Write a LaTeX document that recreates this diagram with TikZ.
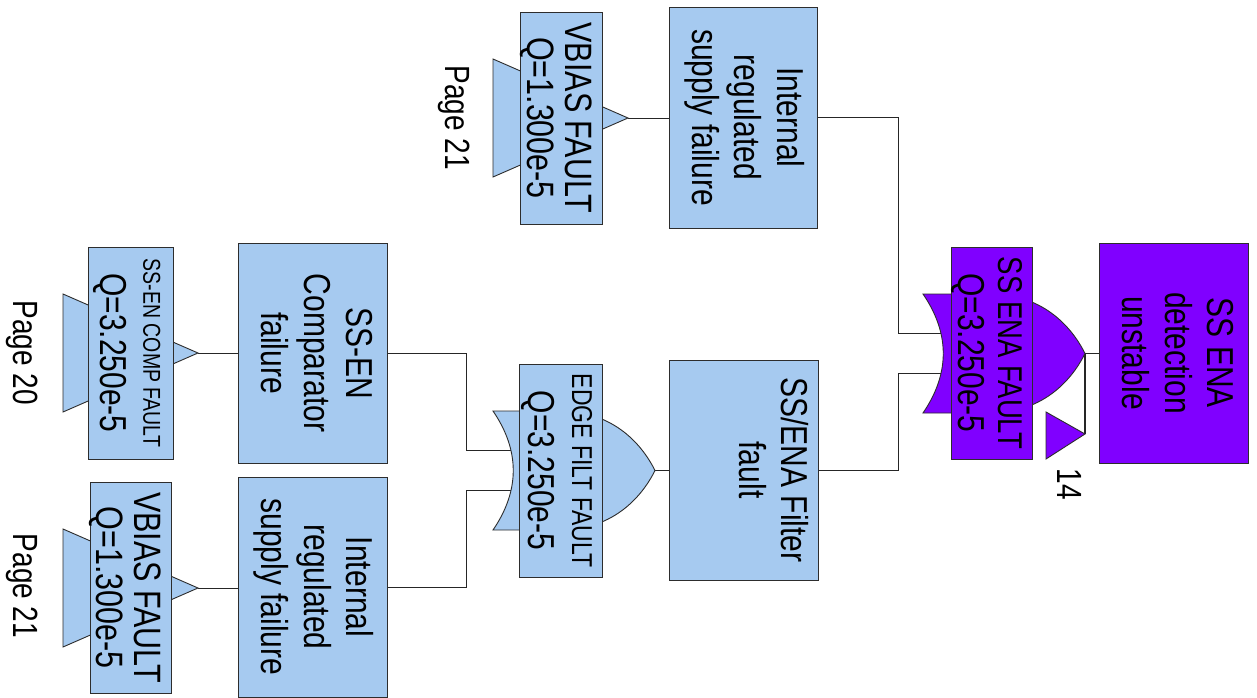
\documentclass[tikz,border=0pt]{standalone}
\usepackage{fontspec}
\setmainfont{Liberation Sans}
\usepackage{graphicx}
\pgfdeclarelayer{bg}
\pgfdeclarelayer{paper}
\pgfsetlayers{paper,bg,main}
\definecolor{skyb}{RGB}{166,202,240}
\definecolor{purp}{RGB}{128,0,255}
\definecolor{edgec}{RGB}{45,45,45}
\newcommand\rtext[4][0pt]{\kern#1\rotatebox{-90}{\scalebox{1}[1.25]{\fontsize{#2}{#3}\selectfont\begin{tabular}{@{}c@{}}#4\end{tabular}}}}
\begin{document}
\begin{tikzpicture}[x=1pt,y=-1pt,
  box/.style={draw=edgec, line width=0.9pt, fill=skyb, inner sep=0pt, outer sep=0pt},
  pbox/.style={box, fill=purp},
  tri/.style={draw=edgec, line width=0.9pt, fill=skyb},
  conn/.style={draw=black!85, line width=0.9pt},
  txt/.style={inner sep=0pt, outer sep=0pt},
  orgate/.pic={
    \path[pic actions] (0,-59.5) -- (67,-59.5) .. controls (117,-59.5) and (147,-30) .. (162,0)
      .. controls (147,30) and (117,59.5) .. (67,59.5) -- (0,59.5)
      .. controls (27,20) and (27,-20) .. (0,-59.5) -- cycle;
    \coordinate (-out) at (162,0);
    \coordinate (-in1) at (18,-20);
    \coordinate (-in2) at (18,20);
  }
]
\useasboundingbox (0,0) rectangle (1257,698);
\begin{pgfonlayer}{paper}
\fill[white] (0,0) rectangle (1257,698);
\end{pgfonlayer}

% transfer-in triangles (behind the label boxes)
\coordinate (a1) at (628,118);
\coordinate (a3) at (198,353);
\coordinate (a4) at (198,588);
\draw[tri] (493,59) -- (a1) -- (493,177) -- cycle;
\draw[tri] (63,294) -- (a3) -- (63,412) -- cycle;
\draw[tri] (63,529) -- (a4) -- (63,647) -- cycle;

% transfer-out triangle
\coordinate (t14) at (1085,434);
\draw[tri, fill=purp] (1046,412) -- (t14) -- (1046,459) -- cycle;

% OR gates
\pic[draw=edgec, fill=purp, line width=0.9pt] (gA) at (923,353.5) {orgate};
\pic[draw=edgec, fill=skyb, line width=0.9pt] (gB) at (493,470.5) {orgate};

% event boxes
\node[pbox, minimum width=149, minimum height=220] (top) at (1173.5,353)
  {\rtext{30}{34}{SS ENA\\detection\\unstable}};
\node[pbox, minimum width=81, minimum height=212] (lA) at (991.5,353)
  {\rtext[-11pt]{30}{32}{{\fontsize{27.5}{28}\selectfont SS ENA FAULT}\\Q=3.250e-5}};

\node[box, minimum width=148, minimum height=221] (e1) at (743,117.5)
  {\rtext{30}{34}{Internal\\regulated\\supply failure}};
\node[box, minimum width=82, minimum height=212] (l1) at (561,118)
  {\rtext[-14pt]{30.5}{30}{VBIAS FAULT\\Q=1.300e-5}};

\node[box, minimum width=149, minimum height=220] (e2) at (743.5,470)
  {\rtext[8pt]{30}{34}{SS/ENA Filter\\fault\\\mbox{}}};
\node[box, minimum width=80, minimum height=213] (lB) at (561,470.5)
  {\rtext[-4pt]{30}{35}{{\fontsize{23}{23}\selectfont EDGE FILT FAULT}\\Q=3.250e-5}};

\node[box, minimum width=149, minimum height=220] (e3) at (312.5,353)
  {\rtext{30}{34}{SS-EN\\Comparator\\failure}};
\node[box, minimum width=81, minimum height=212] (l3) at (130.5,353)
  {\rtext{30}{34}{{\fontsize{19.5}{20}\selectfont SS-EN COMP FAULT}\\Q=3.250e-5}};

\node[box, minimum width=149, minimum height=220] (e4) at (312.5,587)
  {\rtext{30}{34}{Internal\\regulated\\supply failure}};
\node[box, minimum width=81, minimum height=211] (l4) at (130.5,587.5)
  {\rtext[-14pt]{30.5}{30}{VBIAS FAULT\\Q=1.300e-5}};

% page / transfer labels
\node[txt] (pg1) at (453.5,117.5) {\rtext{28}{34}{Page 21}};
\node[txt] (pg3) at (21.5,352.5) {\rtext{28}{34}{Page 20}};
\node[txt] (pg4) at (21.5,586) {\rtext{28}{34}{Page 21}};
\node[txt] (n14) at (1066,484) {\rtext{28}{34}{14}};

% connectors
\begin{pgfonlayer}{bg}
\draw[conn] (a1) -- (a1 -| e1.west);
\draw[conn] (a3) -- (a3 -| e3.west);
\draw[conn] (a4) -- (a4 -| e4.west);
\draw[conn] (e1.east) -| ([xshift=-43pt]gA-in1) -- (gA-in1);
\draw[conn] (e2.east) -| ([xshift=-43pt]gA-in2) -- (gA-in2);
\draw[conn] (gA-out) -- (gA-out -| top.west);
\draw[conn, line width=1.4pt] (gA-out) -- (t14);
\draw[conn] (gB-out) -- (gB-out -| e2.west);
\draw[conn] (e3.east) -| ([xshift=-45pt]gB-in1) -- (gB-in1);
\draw[conn] (e4.east) -| ([xshift=-45pt]gB-in2) -- (gB-in2);
\end{pgfonlayer}
\end{tikzpicture}
\end{document}
